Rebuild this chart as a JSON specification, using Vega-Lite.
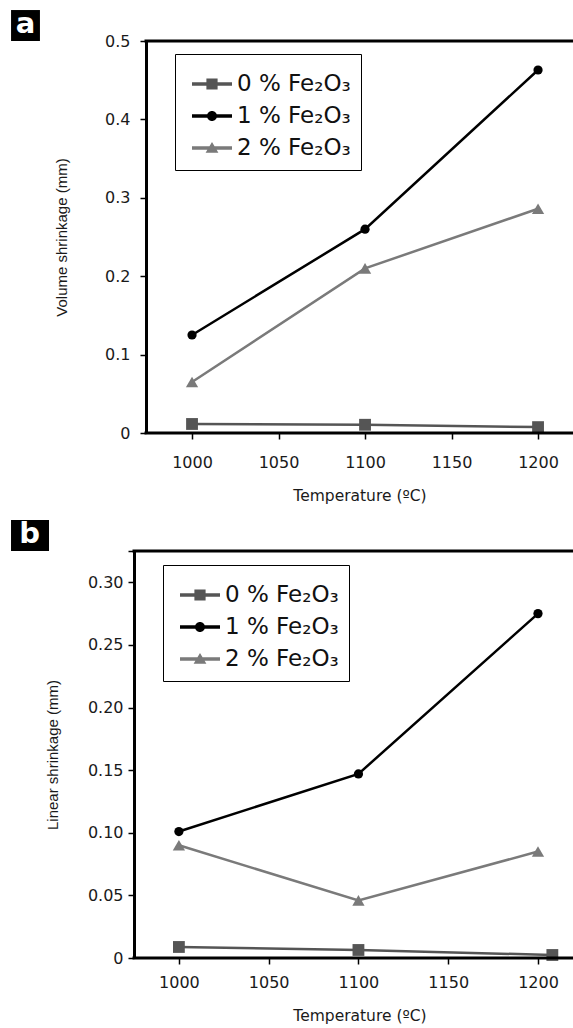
{
  "$schema": "https://vega.github.io/schema/vega-lite/v6.json",
  "background": "white",
  "padding": {"left": 11, "top": 10, "right": 0, "bottom": 0},
  "columns": 1,
  "spacing": 15,
  "resolve": {"scale": {"color": "independent", "shape": "independent"}, "legend": {"color": "independent", "shape": "independent"}},
  "config": {
    "view": {"stroke": null},
    "axis": {"domainColor": "black", "domainWidth": 3, "tickColor": "black", "tickWidth": 1.5, "tickSize": 6, "grid": false, "labelFont": "DejaVu Sans", "labelFontSize": 16, "labelColor": "#1a1a1a", "titleFont": "DejaVu Sans", "titleFontSize": 15.5, "titleFontWeight": "normal", "titleColor": "#1a1a1a"},
    "legend": {"title": null, "labelFont": "DejaVu Sans", "labelFontSize": 23, "labelColor": "#111111", "symbolSize": 1600, "symbolStrokeWidth": 0, "symbolOpacity": 1, "symbolOffset": 7, "labelOffset": 5, "rowPadding": -4, "padding": 10, "strokeColor": "black", "fillColor": "white"}
  },
  "datasets": {
    "volume": [
      {"Temperature": 1000, "Shrinkage": 0.0115, "Series": "0 % Fe₂O₃"},
      {"Temperature": 1100, "Shrinkage": 0.0105, "Series": "0 % Fe₂O₃"},
      {"Temperature": 1200, "Shrinkage": 0.0075, "Series": "0 % Fe₂O₃"},
      {"Temperature": 1000, "Shrinkage": 0.125, "Series": "1 % Fe₂O₃"},
      {"Temperature": 1100, "Shrinkage": 0.260, "Series": "1 % Fe₂O₃"},
      {"Temperature": 1200, "Shrinkage": 0.463, "Series": "1 % Fe₂O₃"},
      {"Temperature": 1000, "Shrinkage": 0.065, "Series": "2 % Fe₂O₃"},
      {"Temperature": 1100, "Shrinkage": 0.210, "Series": "2 % Fe₂O₃"},
      {"Temperature": 1200, "Shrinkage": 0.286, "Series": "2 % Fe₂O₃"}
    ],
    "linear": [
      {"Temperature": 1000, "Shrinkage": 0.0088, "Series": "0 % Fe₂O₃"},
      {"Temperature": 1100, "Shrinkage": 0.0064, "Series": "0 % Fe₂O₃"},
      {"Temperature": 1208, "Shrinkage": 0.0024, "Series": "0 % Fe₂O₃"},
      {"Temperature": 1000, "Shrinkage": 0.101, "Series": "1 % Fe₂O₃"},
      {"Temperature": 1100, "Shrinkage": 0.147, "Series": "1 % Fe₂O₃"},
      {"Temperature": 1200, "Shrinkage": 0.275, "Series": "1 % Fe₂O₃"},
      {"Temperature": 1000, "Shrinkage": 0.090, "Series": "2 % Fe₂O₃"},
      {"Temperature": 1100, "Shrinkage": 0.046, "Series": "2 % Fe₂O₃"},
      {"Temperature": 1200, "Shrinkage": 0.085, "Series": "2 % Fe₂O₃"}
    ]
  },
  "concat": [
    {
      "width": 427,
      "height": 392,
      "layer": [
        {
          "data": {"name": "volume"},
          "mark": {"type": "line", "strokeWidth": 2.5},
          "encoding": {
            "x": {"field": "Temperature", "type": "quantitative", "scale": {"domain": [973.4, 1220.2], "nice": false, "zero": false},
              "axis": {"title": "Temperature (ºC)", "values": [1000, 1050, 1100, 1150, 1200], "format": "d", "domain": false, "labelPadding": 15, "titlePadding": 18}},
            "y": {"field": "Shrinkage", "type": "quantitative", "scale": {"domain": [0, 0.5], "nice": false},
              "axis": {"title": "Volume shrinkage (mm)", "values": [0, 0.1, 0.2, 0.3, 0.4, 0.5], "labelExpr": "datum.value === 0 ? '0' : format(datum.value, '.1f')", "labelPadding": 10, "titlePadding": 35, "titleFont": "Liberation Sans", "titleFontSize": 15}},
            "color": {"field": "Series", "type": "nominal",
              "scale": {"domain": ["0 % Fe₂O₃", "1 % Fe₂O₃", "2 % Fe₂O₃"], "range": ["#555555", "#000000", "#7a7a7a"]},
              "legend": {"orient": "none", "legendX": 29, "legendY": 13, "symbolSize": 1600, "symbolStrokeWidth": 0}}
          }
        },
        {
          "data": {"name": "volume"},
          "mark": {"type": "point", "filled": true, "size": 0},
          "encoding": {
            "x": {"field": "Temperature", "type": "quantitative"},
            "y": {"field": "Shrinkage", "type": "quantitative"},
            "color": {"field": "Series", "type": "nominal"},
            "shape": {"field": "Series", "type": "nominal", "scale": {"domain": ["0 % Fe₂O₃", "1 % Fe₂O₃", "2 % Fe₂O₃"], "range": ["M-1,-0.09H1V0.09H-1Z M-0.28,-0.28H0.28V0.28H-0.28Z", "M-1,-0.09H1V0.09H-1Z M-0.25,0A0.25,0.25 0 1,1 0.25,0A0.25,0.25 0 1,1 -0.25,0Z", "M-1,-0.09H1V0.09H-1Z M0,-0.3L0.32,0.24H-0.32Z"]}}
          }
        },
        {
          "data": {"name": "volume"},
          "transform": [{"filter": "datum.Series === '0 % Fe₂O₃'"}],
          "mark": {"type": "point", "shape": "square", "filled": true, "size": 140, "opacity": 1},
          "encoding": {"x": {"field": "Temperature", "type": "quantitative"}, "y": {"field": "Shrinkage", "type": "quantitative"}, "color": {"field": "Series", "type": "nominal"}}
        },
        {
          "data": {"name": "volume"},
          "transform": [{"filter": "datum.Series === '1 % Fe₂O₃'"}],
          "mark": {"type": "point", "shape": "circle", "filled": true, "size": 85, "opacity": 1},
          "encoding": {"x": {"field": "Temperature", "type": "quantitative"}, "y": {"field": "Shrinkage", "type": "quantitative"}, "color": {"field": "Series", "type": "nominal"}}
        },
        {
          "data": {"name": "volume"},
          "transform": [{"filter": "datum.Series === '2 % Fe₂O₃'"}],
          "mark": {"type": "point", "shape": "triangle-up", "filled": true, "size": 150, "opacity": 1},
          "encoding": {"x": {"field": "Temperature", "type": "quantitative"}, "y": {"field": "Shrinkage", "type": "quantitative"}, "color": {"field": "Series", "type": "nominal"}}
        },
        {
          "data": {"values": [{"panel": "a"}]},
          "mark": {"type": "rule", "strokeWidth": 3, "color": "black"},
          "encoding": {"x": {"datum": 972.53}, "x2": {"datum": 1220.2}, "y": {"datum": 0}}
        },
        {
          "data": {"values": [{"panel": "a"}]},
          "mark": {"type": "rule", "strokeWidth": 3, "color": "black"},
          "encoding": {"x": {"datum": 972.53}, "x2": {"datum": 1220.2}, "y": {"datum": 0.5}}
        },
        {
          "data": {"values": [{"panel": "a"}]},
          "mark": {"type": "rect", "color": "black"},
          "encoding": {"x": {"datum": 895.4}, "x2": {"datum": 912.1}, "y": {"datum": 0.5}, "y2": {"datum": 0.5395}}
        },
        {
          "data": {"values": [{"panel": "a"}]},
          "mark": {"type": "text", "color": "white", "font": "DejaVu Sans", "fontWeight": "bold", "fontSize": 29, "baseline": "alphabetic", "align": "center"},
          "encoding": {"x": {"datum": 903.75}, "y": {"datum": 0.5102}, "text": {"field": "panel"}}
        }
      ]
    },
    {
      "width": 427,
      "height": 407,
      "layer": [
        {
          "data": {"name": "linear"},
          "mark": {"type": "line", "strokeWidth": 2.5},
          "encoding": {
            "x": {"field": "Temperature", "type": "quantitative", "scale": {"domain": [981.68, 1219.5], "nice": false, "zero": false},
              "axis": {"title": "Temperature (ºC)", "values": [1000, 1050, 1100, 1150, 1200], "format": "d", "domain": false, "labelPadding": 10, "titlePadding": 18}},
            "y": {"field": "Shrinkage", "type": "quantitative", "scale": {"domain": [0, 0.325], "nice": false},
              "axis": {"title": "Linear shrinkage (mm)", "offset": 12, "values": [0, 0.05, 0.1, 0.15, 0.2, 0.25, 0.3, 0.325], "labelExpr": "datum.value === 0 ? '0' : datum.value > 0.31 ? '' : format(datum.value, '.2f')", "labelPadding": 5, "titlePadding": 27, "titleFont": "Liberation Sans", "titleFontSize": 15}},
            "color": {"field": "Series", "type": "nominal",
              "scale": {"domain": ["0 % Fe₂O₃", "1 % Fe₂O₃", "2 % Fe₂O₃"], "range": ["#555555", "#000000", "#7a7a7a"]},
              "legend": {"orient": "none", "legendX": 17, "legendY": 14, "symbolSize": 1600, "symbolStrokeWidth": 0}}
          }
        },
        {
          "data": {"name": "linear"},
          "mark": {"type": "point", "filled": true, "size": 0},
          "encoding": {
            "x": {"field": "Temperature", "type": "quantitative"},
            "y": {"field": "Shrinkage", "type": "quantitative"},
            "color": {"field": "Series", "type": "nominal"},
            "shape": {"field": "Series", "type": "nominal", "scale": {"domain": ["0 % Fe₂O₃", "1 % Fe₂O₃", "2 % Fe₂O₃"], "range": ["M-1,-0.09H1V0.09H-1Z M-0.28,-0.28H0.28V0.28H-0.28Z", "M-1,-0.09H1V0.09H-1Z M-0.25,0A0.25,0.25 0 1,1 0.25,0A0.25,0.25 0 1,1 -0.25,0Z", "M-1,-0.09H1V0.09H-1Z M0,-0.3L0.32,0.24H-0.32Z"]}}
          }
        },
        {
          "data": {"name": "linear"},
          "transform": [{"filter": "datum.Series === '0 % Fe₂O₃'"}],
          "mark": {"type": "point", "shape": "square", "filled": true, "size": 140, "opacity": 1},
          "encoding": {"x": {"field": "Temperature", "type": "quantitative"}, "y": {"field": "Shrinkage", "type": "quantitative"}, "color": {"field": "Series", "type": "nominal"}}
        },
        {
          "data": {"name": "linear"},
          "transform": [{"filter": "datum.Series === '1 % Fe₂O₃'"}],
          "mark": {"type": "point", "shape": "circle", "filled": true, "size": 85, "opacity": 1},
          "encoding": {"x": {"field": "Temperature", "type": "quantitative"}, "y": {"field": "Shrinkage", "type": "quantitative"}, "color": {"field": "Series", "type": "nominal"}}
        },
        {
          "data": {"name": "linear"},
          "transform": [{"filter": "datum.Series === '2 % Fe₂O₃'"}],
          "mark": {"type": "point", "shape": "triangle-up", "filled": true, "size": 150, "opacity": 1},
          "encoding": {"x": {"field": "Temperature", "type": "quantitative"}, "y": {"field": "Shrinkage", "type": "quantitative"}, "color": {"field": "Series", "type": "nominal"}}
        },
        {
          "data": {"values": [{"panel": "b"}]},
          "mark": {"type": "rule", "strokeWidth": 3, "color": "black"},
          "encoding": {"x": {"datum": 974.16}, "x2": {"datum": 1219.5}, "y": {"datum": 0}}
        },
        {
          "data": {"values": [{"panel": "b"}]},
          "mark": {"type": "rule", "strokeWidth": 3, "color": "black"},
          "encoding": {"x": {"datum": 974.16}, "x2": {"datum": 1219.5}, "y": {"datum": 0.325}}
        },
        {
          "data": {"values": [{"panel": "b"}]},
          "mark": {"type": "rect", "color": "black"},
          "encoding": {"x": {"datum": 906.5}, "x2": {"datum": 927.66}, "y": {"datum": 0.325}, "y2": {"datum": 0.3498}}
        },
        {
          "data": {"values": [{"panel": "b"}]},
          "mark": {"type": "text", "color": "white", "font": "DejaVu Sans", "fontWeight": "bold", "fontSize": 29, "baseline": "alphabetic", "align": "center"},
          "encoding": {"x": {"datum": 916.8}, "y": {"datum": 0.3314}, "text": {"field": "panel"}}
        }
      ]
    }
  ]
}
